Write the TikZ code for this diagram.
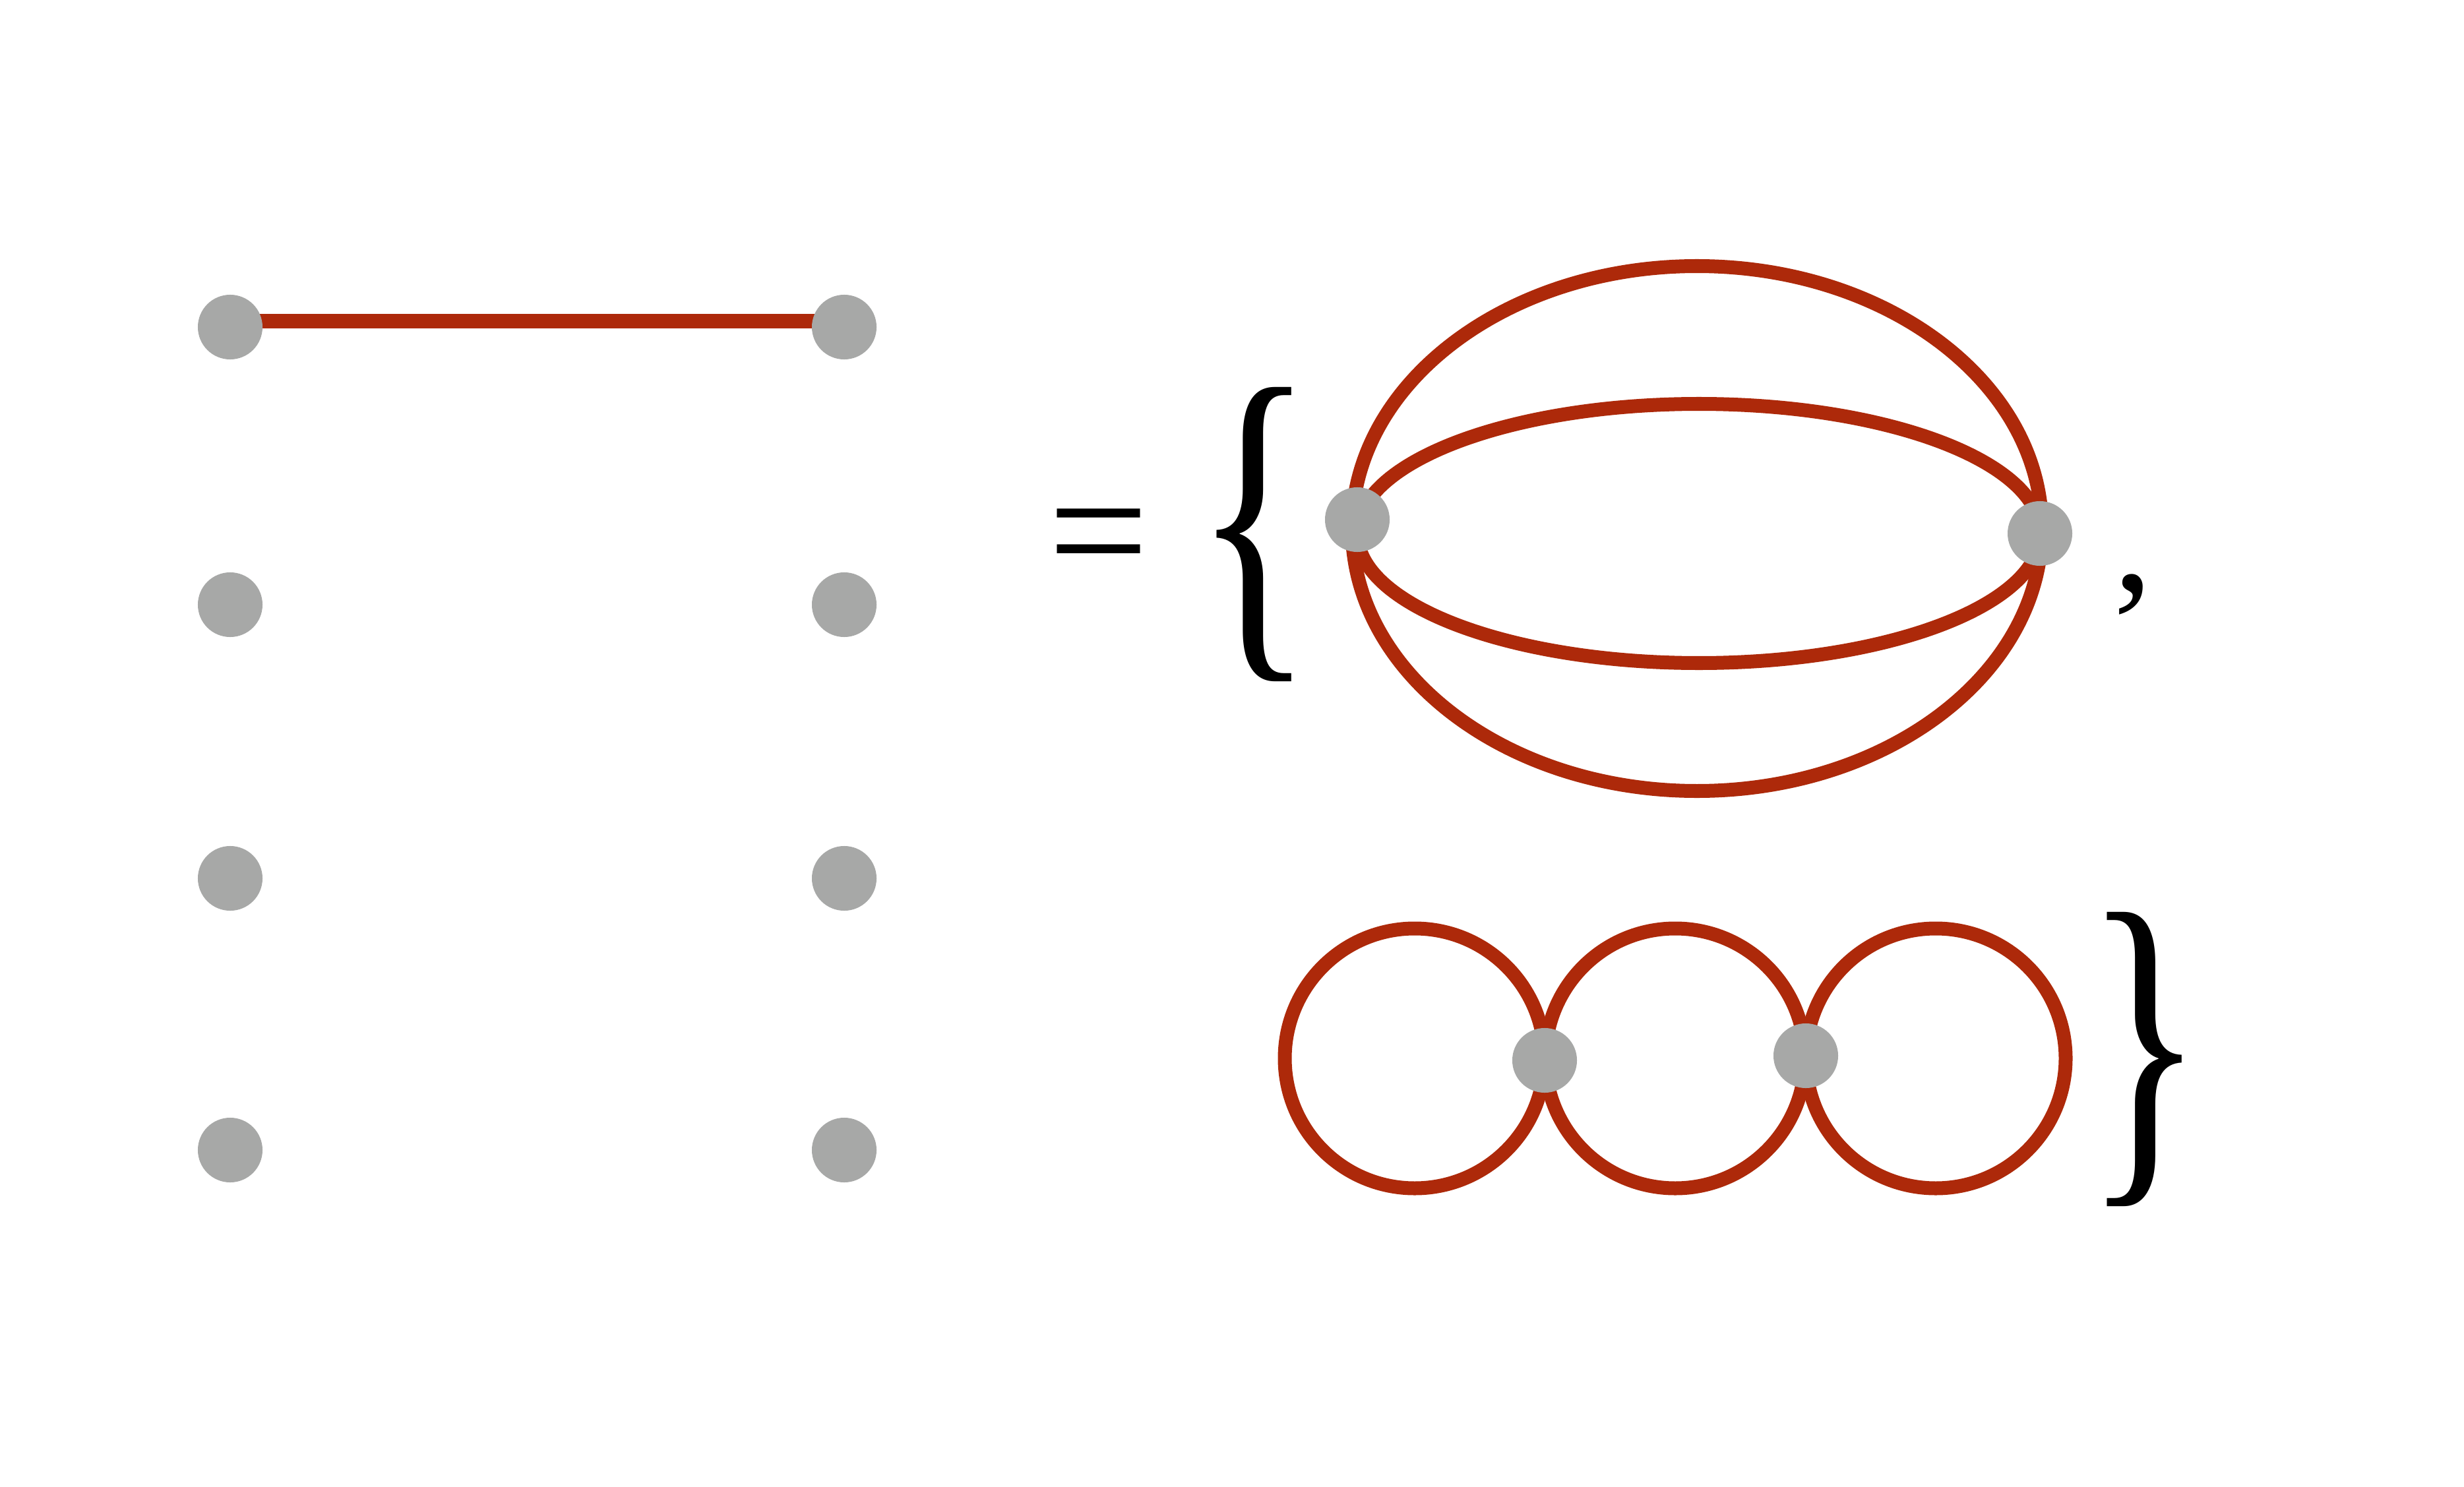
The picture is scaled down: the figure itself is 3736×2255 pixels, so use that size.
\documentclass[tikz,border=0pt]{standalone}
\usepackage{fontspec}
\setmainfont{Liberation Serif}
\usetikzlibrary{calc}
\usetikzlibrary{backgrounds}

\definecolor{propred}{RGB}{173,41,10}
\definecolor{vertgray}{RGB}{167,168,167}

\tikzset{
 vert/.style={circle, fill=vertgray, inner sep=0, minimum size=0.98cm},
 prop/.style={draw=propred, line width=0.21cm},
 bigsym/.style={inner sep=0, font=\fontsize{68}{72}\selectfont},
 eqsym/.style={inner sep=0, font=\fontsize{77}{80}\selectfont},
 bracesym/.style={inner sep=0, font=\fontsize{108}{120}\selectfont},
}

\begin{document}
\begin{tikzpicture}[x=0.01cm, y=-0.01cm]
\useasboundingbox (0,0) rectangle (3736,2255);
\foreach \y [count=\i] in {496,917,1332,1744} {
 \node[vert] (l\i) at (349,\y) {};
 \node[vert] (r\i) at (1280,\y) {};
}
\begin{scope}[on background layer]
\draw[prop] ([yshift=.09cm]l1.center) -- ([yshift=.09cm]r1.center);
\end{scope}
\node[eqsym] (eq) at (1666,834) {=};
\node[bracesym] (lbrace) at (1902,810) {\scalebox{1}[1.42]{\{}};
\draw[prop] (2573,801.5) ellipse [x radius=523, y radius=398];
\draw[prop] (2576,809) ellipse [x radius=518, y radius=196.5];
\node[vert] (sunl) at (2058,788) {};
\node[vert] (sunr) at (3093,809) {};
\node[bigsym] (comma) at (3234,902) {,};
\foreach \x in {2145,2540,2935} {
 \draw[prop] (\x,1605) circle [radius=197];
}
\node[vert] (chain1) at (2342,1608) {};
\node[vert] (chain2) at (2738,1601) {};
\node[bracesym] (rbrace) at (3252,1606) {\scalebox{1}[1.42]{\}}};
\end{tikzpicture}
\end{document}
